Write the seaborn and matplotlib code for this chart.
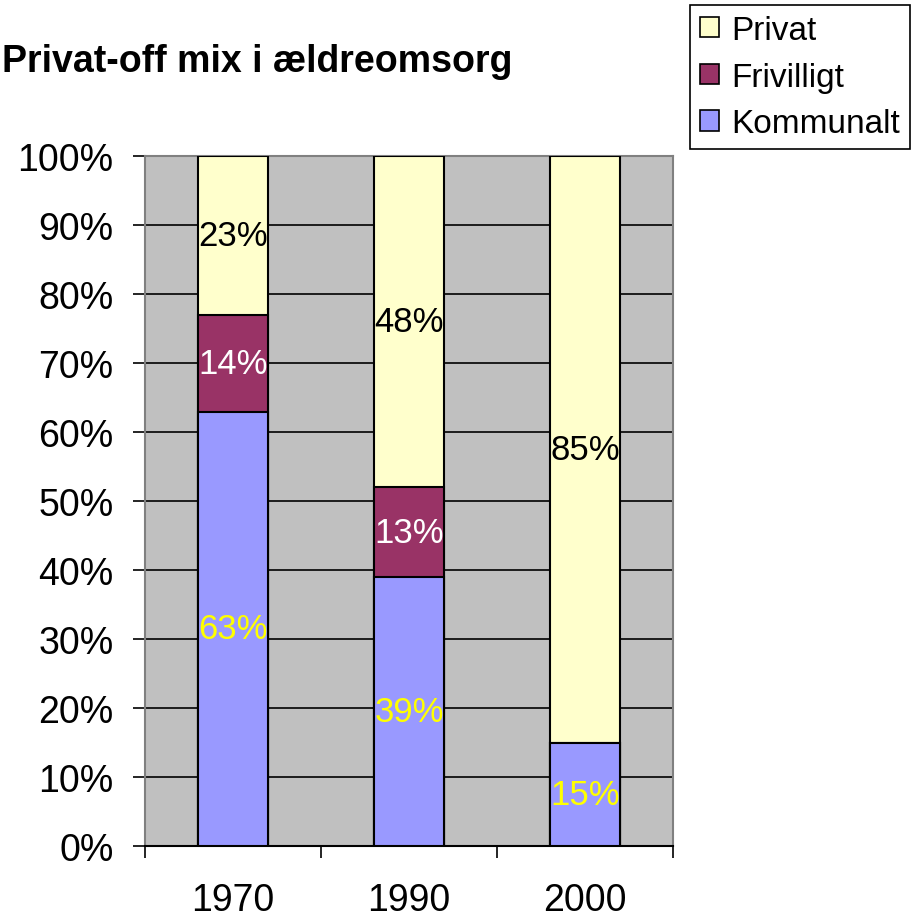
import numpy as np
import pandas as pd
import seaborn as sns
import matplotlib.pyplot as plt
from matplotlib.patches import Patch

years = ["1970", "1990", "2000"]
kommunalt = [63, 39, 15]
frivilligt = [14, 13, 0]
privat = [23, 48, 85]

sns.set_style("white")
plt.rcParams['font.family'] = ['Liberation Sans', 'DejaVu Sans']
plt.rcParams['text.color'] = 'black'
plt.rcParams['xtick.color'] = 'black'
plt.rcParams['ytick.color'] = 'black'

col_k = "#9999FF"
col_f = "#993366"
col_p = "#FFFFCC"

df = pd.DataFrame({"year": years, "Kommunalt": kommunalt,
                   "Frivilligt": frivilligt, "Privat": privat})
df["kf"] = df["Kommunalt"] + df["Frivilligt"]
df["total"] = df["kf"] + df["Privat"]

fig = plt.figure(figsize=(9.12, 9.2), dpi=100)
ax = fig.add_axes([0.159, 0.0793, 0.579, 0.7497])
ax.set_facecolor("#C0C0C0")

# stacked bars drawn as layered cumulative totals
for col, c in [("total", col_p), ("kf", col_f), ("Kommunalt", col_k)]:
    sns.barplot(data=df, x="year", y=col, order=years, color=c, width=0.4,
                edgecolor="black", linewidth=1.5, saturation=1, ax=ax, zorder=3)

# value labels
for i, yr in enumerate(years):
    base = 0
    for vals, tc in [(kommunalt, "#FFFF00"), (frivilligt, "white"), (privat, "black")]:
        v = vals[i]
        if v > 0:
            ax.text(i, base + v / 2, f"{v}%", ha="center", va="center",
                    fontsize=25, color=tc, zorder=5)
        base += v

ax.set_ylim(0, 100)
ax.set_xlim(-0.5, 2.5)
ax.set_yticks(np.arange(0, 101, 10))
ax.set_yticklabels([f"{t}%" for t in range(0, 101, 10)], fontsize=27)
ax.yaxis.grid(True, color="black", linewidth=1.2, zorder=0)
ax.set_axisbelow(True)
ax.tick_params(axis="y", length=8.6, width=1.2, color="black", left=True, pad=14)

ax.set_xticks([0, 1, 2])
ax.set_xticklabels(years, fontsize=27)
ax.set_xticks([-0.5, 0.5, 1.5, 2.5], minor=True)
ax.tick_params(axis="x", which="major", length=0, pad=26)
ax.tick_params(axis="x", which="minor", length=8.6, width=1.2, color="black", bottom=True)
ax.set_xlabel("")
ax.set_ylabel("")

for s in ["top", "left", "right"]:
    ax.spines[s].set_color("#808080")
    ax.spines[s].set_linewidth(1.5)
ax.spines["bottom"].set_color("black")
ax.spines["bottom"].set_linewidth(1.5)

fig.text(0.002, 0.933, "Privat-off mix i ældreomsorg", fontsize=27,
         fontweight="bold", ha="left", va="center")

handles = [Patch(facecolor=col_p, edgecolor="black", linewidth=1.2, label="Privat"),
           Patch(facecolor=col_f, edgecolor="black", linewidth=1.2, label="Frivilligt"),
           Patch(facecolor=col_k, edgecolor="black", linewidth=1.2, label="Kommunalt")]
leg = fig.legend(handles=handles, loc="upper right", bbox_to_anchor=(0.9975, 0.9935),
                 fontsize=24, fancybox=False, framealpha=1, edgecolor="black",
                 handlelength=0.57, handleheight=0.57, handletextpad=0.36,
                 labelspacing=0.47, borderpad=0.3, borderaxespad=0.0)
leg.get_frame().set_linewidth(1.2)

fig.savefig("out.png", dpi=100)
